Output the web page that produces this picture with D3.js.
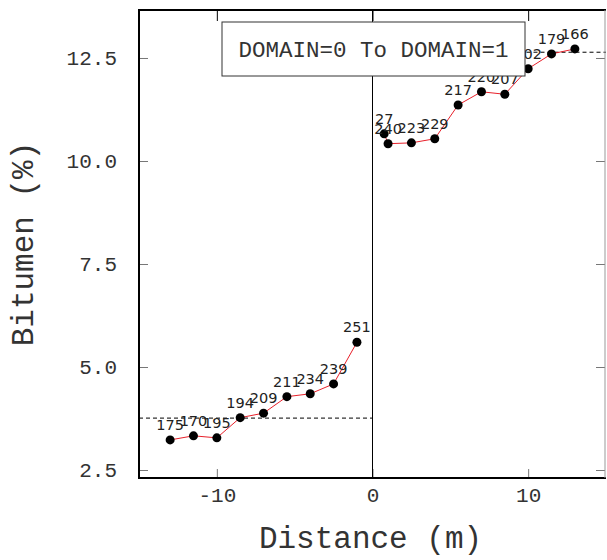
<!DOCTYPE html>
<html>
<head>
<meta charset="utf-8">
<script src="https://cdn.jsdelivr.net/npm/d3@7"></script>
<style>
  body { margin: 0; background: #fff; }
  svg { display: block; }
</style>
</head>
<body>
<div id="chart"></div>
<script>
// Data
var leftX = [-13, -11.5, -10, -8.5, -7, -5.5, -4, -2.5, -1];
var leftY = [3.23, 3.33, 3.28, 3.77, 3.88, 4.28, 4.35, 4.59, 5.60];
var leftLabels = ["175", "170", "195", "194", "209", "211", "234", "239", "251"];

var rightX = [0.75, 1, 2.5, 4, 5.5, 7, 8.5, 10, 11.5, 13];
var rightY = [10.66, 10.42, 10.44, 10.54, 11.36, 11.68, 11.62, 12.24, 12.60, 12.72];
var rightLabels = ["27", "240", "223", "229", "217", "220", "207", "202", "179", "166"];

// Dashed reference levels on each side
var leftLevel = 3.76;
var rightLevel = 12.64;

var xTicks = [-10, 0, 10];
var yTicks = [2.5, 5.0, 7.5, 10.0, 12.5];
var legendText = "DOMAIN=0 To DOMAIN=1";

// SVG area
var svgWidth = 607;
var svgHeight = 560;
var margin = { top: 10, right: 1, bottom: 82, left: 139 };
var chartWidth = svgWidth - margin.left - margin.right;
var chartHeight = svgHeight - margin.top - margin.bottom;

var svg = d3.select("#chart")
  .append("svg")
  .attr("width", svgWidth)
  .attr("height", svgHeight);

var chartGroup = svg.append("g")
  .attr("transform", `translate(${margin.left}, ${margin.top})`);

var xScale = d3.scaleLinear()
  .domain([-15, 15])
  .range([0, chartWidth]);

var yScale = d3.scaleLinear()
  .domain([2.306, 13.665])
  .range([chartHeight, 0]);

var mono = "'Liberation Mono', 'DejaVu Sans Mono', monospace";
var fmtX = function(d) { return d < 0 ? "-" + Math.abs(d) : String(d); };

// Axes with inward ticks
var bottomAxis = d3.axisBottom(xScale).tickValues(xTicks).tickSize(-9).tickPadding(9).tickFormat(fmtX);
var topAxis = d3.axisTop(xScale).tickValues(xTicks).tickSize(-11).tickFormat("");
var leftAxis = d3.axisLeft(yScale).tickValues(yTicks).tickSize(-9).tickPadding(22).tickFormat(d3.format(".1f"));
var rightAxis = d3.axisRight(yScale).tickValues(yTicks).tickSize(-9).tickFormat("");

function styleAxis(g) {
  g.select(".domain").remove();
  g.selectAll(".tick line").attr("stroke", "#777");
  g.selectAll("text")
    .attr("font-family", mono)
    .attr("font-size", "21px")
    .attr("fill", "#333");
}

chartGroup.append("g")
  .attr("transform", `translate(0, ${chartHeight})`)
  .call(bottomAxis)
  .call(styleAxis);

chartGroup.append("g")
  .call(topAxis)
  .call(styleAxis)
  .selectAll(".tick line").attr("stroke", "#000");

chartGroup.append("g")
  .call(leftAxis)
  .call(styleAxis);

chartGroup.append("g")
  .attr("transform", `translate(${chartWidth - 1}, 0)`)
  .call(rightAxis)
  .call(styleAxis);

// Vertical line at distance 0
chartGroup.append("line")
  .attr("x1", xScale(0)).attr("x2", xScale(0))
  .attr("y1", 0).attr("y2", chartHeight)
  .attr("stroke", "#000")
  .attr("stroke-width", 1);

// Dashed levels
chartGroup.append("line")
  .attr("x1", xScale(-15)).attr("x2", xScale(0))
  .attr("y1", yScale(leftLevel)).attr("y2", yScale(leftLevel))
  .attr("stroke", "#000")
  .attr("stroke-dasharray", "4,3");

chartGroup.append("line")
  .attr("x1", xScale(0)).attr("x2", xScale(15))
  .attr("y1", yScale(rightLevel)).attr("y2", yScale(rightLevel))
  .attr("stroke", "#000")
  .attr("stroke-dasharray", "4,3");

// Series
function drawSeries(xs, ys, labels) {
  var pts = xs.map(function(x, i) { return { x: x, y: ys[i], label: labels[i] }; });

  var line = d3.line()
    .x(d => xScale(d.x))
    .y(d => yScale(d.y));

  chartGroup.append("path")
    .datum(pts)
    .attr("d", line)
    .attr("fill", "none")
    .attr("stroke", "#e8202a")
    .attr("stroke-width", 1);

  chartGroup.append("g")
    .selectAll("circle")
    .data(pts)
    .enter()
    .append("circle")
    .attr("cx", d => xScale(d.x))
    .attr("cy", d => yScale(d.y))
    .attr("r", 4.5)
    .attr("fill", "#000");

  chartGroup.append("g")
    .selectAll("text")
    .data(pts)
    .enter()
    .append("text")
    .attr("x", d => xScale(d.x))
    .attr("y", d => yScale(d.y) - 10)
    .attr("text-anchor", "middle")
    .attr("font-family", "'DejaVu Sans', sans-serif")
    .attr("font-size", "14.5px")
    .attr("fill", "#222")
    .text(d => d.label);
}

drawSeries(leftX, leftY, leftLabels);
drawSeries(rightX, rightY, rightLabels);

// Legend box
var legend = chartGroup.append("g")
  .attr("transform", `translate(${222 - margin.left}, ${22 - margin.top})`);

legend.append("rect")
  .attr("width", 303)
  .attr("height", 54)
  .attr("fill", "#fff")
  .attr("stroke", "#333")
  .attr("stroke-width", 1);

legend.append("text")
  .attr("x", 151.5)
  .attr("y", 27)
  .attr("dy", "0.35em")
  .attr("text-anchor", "middle")
  .attr("font-family", mono)
  .attr("font-size", "22.5px")
  .attr("fill", "#333")
  .text(legendText);

// Frame: heavy top, left, bottom; light right
chartGroup.append("path")
  .attr("d", `M${chartWidth},0 H0 V${chartHeight} H${chartWidth}`)
  .attr("fill", "none")
  .attr("stroke", "#000")
  .attr("stroke-width", 2);

chartGroup.append("line")
  .attr("x1", chartWidth - 1).attr("x2", chartWidth - 1)
  .attr("y1", 0).attr("y2", chartHeight)
  .attr("stroke", "#999")
  .attr("stroke-width", 1);

// Axis titles
chartGroup.append("text")
  .attr("x", chartWidth / 2 - 2)
  .attr("y", chartHeight + 70)
  .attr("text-anchor", "middle")
  .attr("font-family", mono)
  .attr("font-size", "31px")
  .attr("fill", "#333")
  .text("Distance (m)");

chartGroup.append("text")
  .attr("transform", `translate(${33 - margin.left}, ${chartHeight / 2}) rotate(-90)`)
  .attr("text-anchor", "middle")
  .attr("font-family", mono)
  .attr("font-size", "31px")
  .attr("fill", "#333")
  .text("Bitumen (%)");
</script>
</body>
</html>
